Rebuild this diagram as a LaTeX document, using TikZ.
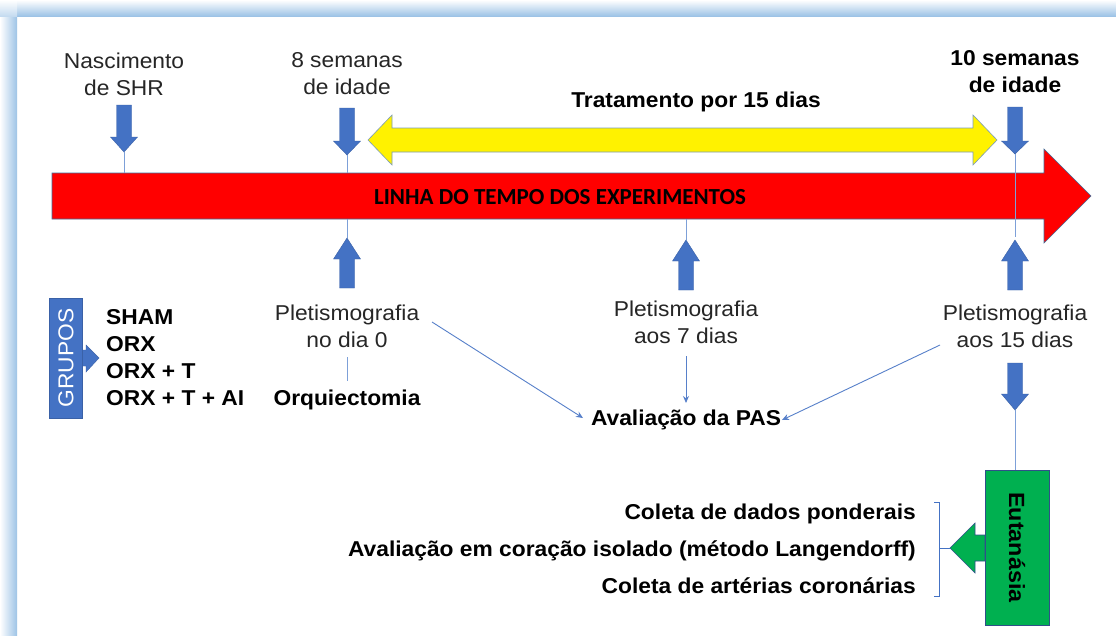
\documentclass[tikz,border=0pt]{standalone}
\usepackage{fontspec}
\setmainfont{Liberation Sans}[FakeStretch=1.06]
\newfontfamily\cfont{Carlito}
\usetikzlibrary{arrows.meta}
\definecolor{ablue}{HTML}{4472C4}
\definecolor{lblue}{HTML}{7DA0D8}
\definecolor{frameblue}{HTML}{9DC3E6}
\definecolor{outl}{HTML}{41719C}
\definecolor{egreen}{HTML}{00B050}
\tikzset{
 txt/.style={font=\fontsize{21.5}{27}\selectfont, align=center, inner sep=0pt, text=black!85},
 btxt/.style={font=\fontsize{21.5}{27}\selectfont\bfseries, align=center, inner sep=0pt, text=black},
 blk/.style={fill=ablue, draw=ablue!85!black, line width=0.4pt},
 thinln/.style={draw=lblue, line width=0.8pt},
 thinarr/.style={draw=ablue!90, line width=0.9pt, -{Stealth[length=7pt,width=6pt]}},
}
\newcommand\DownBlk[4]{\filldraw[blk] ({#1-7.5},#2) -- ({#1+7.5},#2) -- ({#1+7.5},#3) -- ({#1+13.5},#3) -- (#1,#4) -- ({#1-13.5},#3) -- ({#1-7.5},#3) -- cycle;}
\newcommand\UpBlk[4]{\filldraw[blk] ({#1-7.5},#2) -- ({#1+7.5},#2) -- ({#1+7.5},#3) -- ({#1+13.5},#3) -- (#1,#4) -- ({#1-13.5},#3) -- ({#1-7.5},#3) -- cycle;}
\begin{document}
\begin{tikzpicture}[x=1pt,y=-1pt]
\useasboundingbox (0,0) rectangle (1116,635);
\fill[white] (0,0) rectangle (1116,635);
% frame shadow
\shade[left color=white, right color=frameblue] (0,16) rectangle (17,635);
\shade[top color=white, bottom color=frameblue] (17,0) rectangle (1116,16);
\shade[top color=white, bottom color=frameblue!60] (0,0) rectangle (17,16);

% red timeline arrow
\filldraw[fill=red, draw=outl, line width=0.6pt] (52,173) -- (1044,173) -- (1044,149) -- (1091,196) -- (1044,243) -- (1044,219) -- (52,219) -- cycle;
\node[font=\cfont\fontsize{23}{26}\selectfont\bfseries, inner sep=0pt] (linha) at (560,197) {LINHA DO TEMPO DOS EXPERIMENTOS};

% yellow treatment arrow
\filldraw[fill=yellow, draw=outl!70, line width=0.6pt] (368,140) -- (392,115) -- (392,128) -- (973,128) -- (973,115) -- (997,140) -- (973,165) -- (973,152) -- (392,152) -- (392,165) -- cycle;
\node[btxt] (trat) at (696,102) {Tratamento por 15 dias};

% top labels
\node[txt] (nasc) at (124,74.5) {Nascimento\\de SHR};
\node[txt] (sem8) at (347,73.5) {8 semanas\\de idade};
\node[btxt] (sem10) at (1015,72) {10 semanas\\de idade};

% down arrows above timeline
\DownBlk{124}{105}{137}{152}
\DownBlk{347}{108}{141}{155}
\DownBlk{1015}{107}{141}{154}
\coordinate (n1) at (124,152); \coordinate (r1) at (124,173);
\coordinate (n2) at (347,155); \coordinate (r2) at (347,173);
\coordinate (n3) at (1015,154); \coordinate (r3) at (1015,237);
\draw[thinln] (n1) -- (r1);
\draw[thinln] (n2) -- (r2);
\draw[thinln] (n3) -- (r3);

% up arrows below timeline
\coordinate (b2) at (347,219); \coordinate (u2) at (347,238);
\coordinate (b7) at (686,219); \coordinate (u7) at (686,240);
\draw[thinln] (b2) -- (u2);
\draw[thinln] (b7) -- (u7);
\UpBlk{347}{288}{259}{238}
\UpBlk{686}{290}{261}{240}
\UpBlk{1015}{290}{261}{240}

% pletismografia labels
\node[txt] (p0) at (347,326) {Pletismografia\\no dia 0};
\node[txt] (p7) at (686,322) {Pletismografia\\aos 7 dias};
\node[txt] (p15) at (1015,326) {Pletismografia\\aos 15 dias};
\node[btxt] (orq) at (347,400) {Orquiectomia};
\node[btxt] (pas) at (686,420) {Avaliação da PAS};
\coordinate (o1) at (347,357); \coordinate (o2) at (347,381);
\draw[thinln] (o1) -- (o2);

% arrows to PAS
\coordinate (a0) at (432,322); \coordinate (e0) at (583,418);
\coordinate (a7) at (686,356); \coordinate (e7) at (686,403);
\coordinate (a15) at (940,345); \coordinate (e15) at (782,420);
\draw[thinarr] (a0) -- (e0);
\draw[thinarr] (a7) -- (e7);
\draw[thinarr] (a15) -- (e15);

% grupos
\filldraw[blk] (82,350) -- (86,350) -- (86,345) -- (99,358) -- (86,372) -- (86,366) -- (82,366) -- cycle;
\node[fill=ablue, draw=ablue!85!black, rotate=90, minimum width=120, minimum height=33, inner sep=0pt, text=white, font=\fontsize{21.5}{24}\selectfont] (grp) at (66,358) {GRUPOS};
\node[btxt, align=left, anchor=west] (lista) at (106,357.5) {SHAM\\ORX\\ORX + T\\ORX + T + AI};

% eutanasia
\DownBlk{1015}{363}{394}{410}
\coordinate (d1) at (1015,410); \coordinate (d2) at (1015,470);
\draw[thinln] (d1) -- (d2);
\filldraw[fill=egreen, draw=ablue!70!black, line width=0.6pt] (985,535) -- (975,535) -- (975,523) -- (950,548) -- (975,573) -- (975,561) -- (985,561) -- cycle;
\node[fill=egreen, draw=ablue!70!black, line width=0.6pt, rotate=-90, minimum width=155, minimum height=64, inner sep=0pt, font=\fontsize{22}{26}\selectfont\bfseries] (eut) at (1017,547.5) {Eutanásia};
\node[font=\fontsize{21.5}{37}\selectfont\bfseries, align=right, anchor=east, inner sep=0pt] (coleta) at (916,549) {Coleta de dados ponderais\\Avaliação em coração isolado (método Langendorff)\\Coleta de artérias coronárias};
\coordinate (k1) at (934,502); \coordinate (k2) at (939,502); \coordinate (k3) at (939,596); \coordinate (k4) at (934,596);
\coordinate (km) at (939,548); \coordinate (kt) at (950,548);
\draw[draw=ablue, line width=0.9pt] (k1) -- (k2) -- (k3) -- (k4);
\draw[draw=ablue, line width=0.9pt] (km) -- (kt);
\end{tikzpicture}
\end{document}
